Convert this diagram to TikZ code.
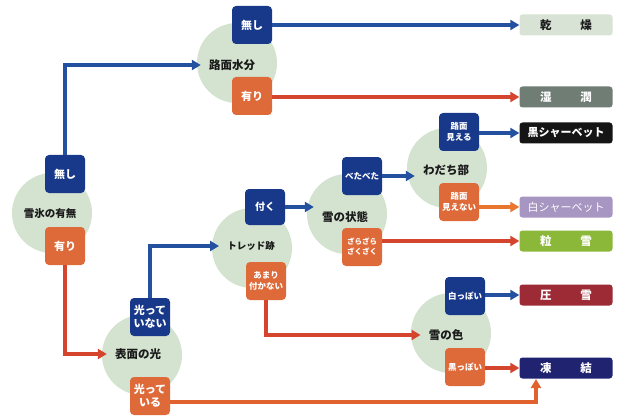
\documentclass[tikz,border=0pt]{standalone}
\usepackage{fontspec}
\setmainfont{Noto Sans CJK JP}
\usetikzlibrary{arrows.meta}
\definecolor{DiscGreen}{HTML}{D3E3CF}
\definecolor{BoxBlue}{HTML}{18398A}
\definecolor{BoxOrange}{HTML}{DE6A3A}
\definecolor{LineBlue}{HTML}{2450A0}
\definecolor{LineRed}{HTML}{D5452D}
\definecolor{LineOrange}{HTML}{E8762F}
\definecolor{QText}{HTML}{1A1A1A}
\definecolor{DryBox}{HTML}{D8E3D6}
\definecolor{WetBox}{HTML}{6F7D74}
\definecolor{BlackSherbet}{HTML}{151515}
\definecolor{WhiteSherbet}{HTML}{A795C2}
\definecolor{GrainBox}{HTML}{8CB83A}
\definecolor{PackedBox}{HTML}{9C2B36}
\definecolor{FrozenBox}{HTML}{1F2370}

\begin{document}
\begin{tikzpicture}[x=1pt,y=-1pt,>={Triangle[length=9pt,width=10pt]},
 disc/.style={circle,fill=DiscGreen,minimum size=80pt,inner sep=0pt},
 qtext/.style={inner xsep=8pt,inner ysep=1pt,text=QText,font=\bfseries\fontsize{11.5}{13}\selectfont},
 choice/.style={rounded corners=4pt,minimum width=40pt,minimum height=38pt,inner sep=1pt,align=center,text=white,font=\bfseries\fontsize{11}{13}\selectfont},
 nobox/.style={choice,fill=BoxBlue}, yesbox/.style={choice,fill=BoxOrange},
 small/.style={font=\bfseries\fontsize{8.5}{10.5}\selectfont},
 endbox/.style={rounded corners=3pt,minimum width=93pt,minimum height=21pt,inner sep=0pt,text=white,font=\bfseries\fontsize{11.5}{13}\selectfont},
 bl/.style={LineBlue,line width=3.2pt,->}, rd/.style={LineRed,line width=3.2pt,->}]
\useasboundingbox[fill=white] (0,0) rectangle (621,417);
% discs
\node[disc] (s0) at (52,213){}; \node[disc] (s1) at (237,63){}; \node[disc] (s2) at (252,248){};
\node[disc] (s3) at (347,214){}; \node[disc] (s4) at (447,168){}; \node[disc] (s5) at (451,333){};
\node[disc] (s6) at (142,355){};
\node[qtext,font=\bfseries\fontsize{10.5}{13}\selectfont] (q0) at (50,214){雪氷の有無};
\node[qtext] (q1) at (232,65){路面水分};
\node[qtext,font=\bfseries\fontsize{9.5}{12}\selectfont] (q2) at (251,246){トレッド跡};
\node[qtext] (q3) at (345,217){雪の状態};
\node[qtext] (q4) at (446,170){わだち部};
\node[qtext] (q5) at (446,335){雪の色};
\node[qtext] (q6) at (138,354){表面の光};
% choices
\node[nobox] (r1) at (65,174){無し}; \node[yesbox] (r2) at (65,246){有り};
\node[nobox] (a1) at (252,25){無し}; \node[yesbox] (a2) at (252,96){有り};
\node[nobox,font=\bfseries\fontsize{10}{12}\selectfont,minimum height=36pt] (t1) at (265,207){付く};
\node[yesbox,small] (t2) at (266,281){あまり\\付かない};
\node[nobox,font=\bfseries\fontsize{8.5}{10}\selectfont] (p1) at (362,176){べたべた};
\node[yesbox,font=\bfseries\fontsize{7.5}{10}\selectfont] (p2) at (362,247){ざらざら\\ざくざく};
\node[nobox,small] (w1) at (459,132){路面\\見える}; \node[yesbox,small] (w2) at (459,202){路面\\見えない};
\node[nobox,small] (k1) at (465,296){白っぽい}; \node[yesbox,small] (k2) at (465,367){黒っぽい};
\node[nobox] (g1) at (150,317){光って\\いない}; \node[yesbox] (g2) at (150,396){光って\\いる};
% results
\node[endbox,fill=DryBox,text=QText] (d1) at (566,25){乾\hspace{2.5em}燥};
\node[endbox,fill=WetBox] (d2) at (566,97){湿\hspace{2.5em}潤};
\node[endbox,fill=BlackSherbet,font=\bfseries\fontsize{11}{13}\selectfont] (d3) at (566,133){黒シャーベット};
\node[endbox,fill=WhiteSherbet,font=\fontsize{11}{13}\selectfont] (d4) at (566,207){白シャーベット};
\node[endbox,fill=GrainBox] (d5) at (566,241){粒\hspace{2.5em}雪};
\node[endbox,fill=PackedBox] (d6) at (566,295){圧\hspace{2.5em}雪};
\node[endbox,fill=FrozenBox] (d7) at (566,368){凍\hspace{2.5em}結};
\coordinate (fz) at (536,379);
% connectors
\draw[bl] (r1.north) |- (q1.west);
\draw[rd] (r2.south) |- (q6.west);
\draw[bl] (a1.east) -- (d1.west);
\draw[rd] (d2.west -| a2.east) -- (d2.west);
\draw[bl] (g1.north) |- (q2.west);
\draw[bl] (t1.east) -- (t1.east -| q3.west);
\draw[rd] (t2.south) |- (q5.west);
\draw[bl] (p1.east) -- (p1.east -| q4.west);
\draw[rd] (d5.west -| p2.east) -- (d5.west);
\draw[bl] (d3.west -| w1.east) -- (d3.west);
\draw[rd,LineOrange] (d4.west -| w2.east) -- (d4.west);
\draw[bl] (d6.west -| k1.east) -- (d6.west);
\draw[rd] (d7.west -| k2.east) -- (d7.west);
\draw[rd,LineOrange!60!LineRed] ([yshift=-6pt]g2.east) -| (fz);
\end{tikzpicture}
\end{document}
